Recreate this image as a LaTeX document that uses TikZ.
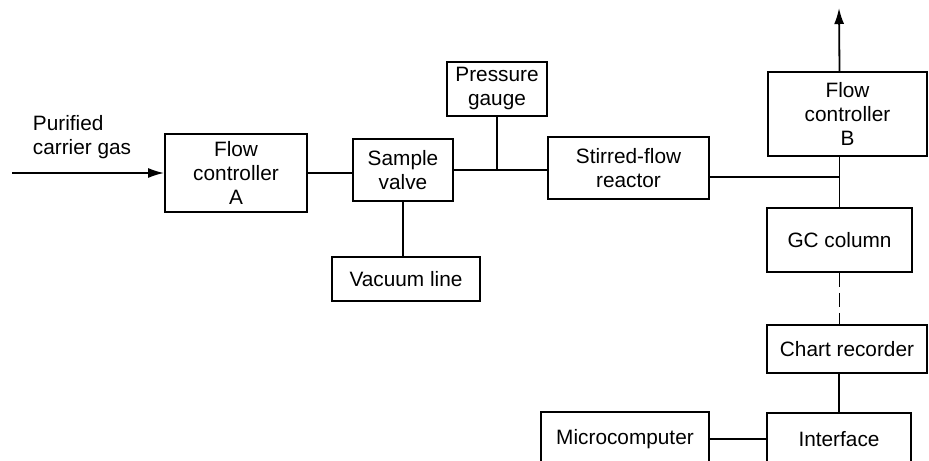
\documentclass[tikz,border=0pt]{standalone}
\usepackage{fontspec}
\setmainfont{Liberation Sans}
\usetikzlibrary{arrows.meta}
\begin{document}
\begin{tikzpicture}[x=0.5pt,y=-0.5pt,line width=0.9pt,
  box/.style={draw,rectangle,align=center,inner sep=1pt,font=\fontsize{10.4}{12}\selectfont},
  flow/.style={-{Latex[length=8pt,width=5pt]}}]
  % Rahmen
  \useasboundingbox (0,0) rectangle (929,460);
  \clip (0,0) rectangle (929,460);
  % Kaesten
  \node[box,minimum width=71pt,minimum height=39pt] (fcA) at (236,173) {Flow\\controller\\A};
  \node[box,minimum width=50pt,minimum height=31pt] (valve) at (403,170) {Sample\\valve};
  \node[box,minimum width=50pt,minimum height=27pt] (gauge) at (497,89) {Pressure\\gauge};
  \node[box,minimum width=80.5pt,minimum height=31pt] (reactor) at (628.5,168) {Stirred-flow\\reactor};
  \node[box,minimum width=74pt,minimum height=22pt] (vacuum) at (406,279) {Vacuum line};
  \node[box,minimum width=79.5pt,minimum height=42pt] (fcB) at (847.5,114) {Flow\\controller\\B};
  \node[box,minimum width=72.5pt,minimum height=32pt] (GC) at (839.5,240) {GC column};
  \node[box,minimum width=80pt,minimum height=24pt] (chart) at (847,349) {Chart recorder};
  \node[box,minimum width=72pt,minimum height=26pt] (interface) at (839,439) {Interface};
  \node[box,minimum width=84pt,minimum height=27pt] (micro) at (625,439) {Microcomputer};
  % Gaszufuhr
  \coordinate (gasin) at (12,173);
  \node[anchor=south west,align=left,inner sep=0pt,font=\fontsize{10.4}{12}\selectfont] (gaslabel) at (32,160) {Purified\\carrier gas};
  \draw[flow] (gasin) -- (fcA.west);
  % Leitungen
  \draw (fcA.east) -- (fcA.east -| valve.west);
  \draw (valve.east) -- (valve.east -| reactor.west);
  \coordinate (j1) at (gauge.south |- valve.east);
  \draw (gauge.south) -- (j1);
  \draw (valve.south) -- (valve.south |- vacuum.north);
  \coordinate (j2) at (GC.north |- 0,177);
  \draw (reactor.east |- j2) -- (j2);
  \draw (GC.north) -- (GC.north |- fcB.south);
  \coordinate (out) at (839,8);
  \draw[flow] (GC.north |- fcB.north) -- (out);
  \draw[dash pattern=on 7pt off 3pt] (GC.south) -- (GC.south |- chart.north);
  \draw (interface.north |- chart.south) -- (interface.north);
  \draw (micro.east) -- (interface.west);
\end{tikzpicture}
\end{document}
